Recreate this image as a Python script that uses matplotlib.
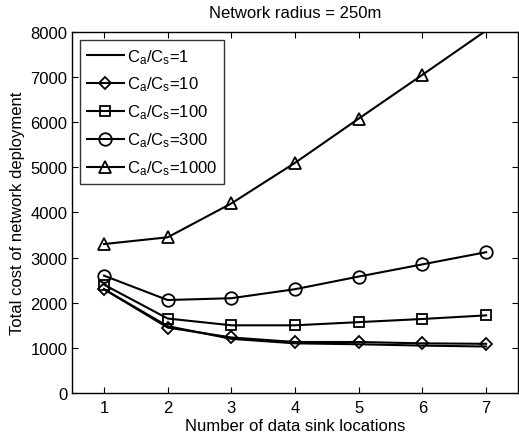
import numpy as np
import matplotlib
matplotlib.use("Agg")
import matplotlib.pyplot as plt

plt.rcParams['font.family'] = ['Liberation Sans', 'DejaVu Sans']
plt.rcParams['mathtext.default'] = 'regular'

# data
sinks = [1, 2, 3, 4, 5, 6, 7]
ratios = ["1", "10", "100", "300", "1000"]
cost_1 = [2300, 1480, 1200, 1100, 1080, 1050, 1030]
cost_10 = [2300, 1450, 1230, 1130, 1130, 1100, 1090]
cost_100 = [2400, 1650, 1500, 1500, 1570, 1640, 1720]
cost_300 = [2600, 2060, 2100, 2300, 2580, 2850, 3120]
cost_1000 = [3300, 3450, 4200, 5100, 6080, 7050, 8030]

series = [cost_1, cost_10, cost_100, cost_300, cost_1000]
markers = [None, "D", "s", "o", "^"]
msizes = [0, 6, 7, 9, 9]

fig = plt.figure(figsize=(5.19, 4.39), dpi=100)
ax = fig.add_axes([0.139, 0.1025, 0.859, 0.8225])

for vals, r, m, ms in zip(series, ratios, markers, msizes):
    # matlab drops markers that fall outside the axes
    keep = [i for i, v in enumerate(vals) if v <= 8000]
    ax.plot(sinks, vals, color="black", lw=1.5, marker=m, markersize=ms,
            markerfacecolor="none", markeredgewidth=1.3, markevery=keep,
            label=r"$C_a/C_s$=" + r)

ax.set_xlim(0.5, 7.5)
ax.set_ylim(0, 8000)
ax.set_xticks(sinks)
ax.set_yticks(np.arange(0, 8001, 1000))
ax.tick_params(direction="in", top=True, right=True, labelsize=12, length=4)
ax.tick_params(axis="x", pad=5)
for s in ax.spines.values():
    s.set_linewidth(1)

ax.set_xlabel("Number of data sink locations", fontsize=12, labelpad=2)
ax.set_ylabel("Total cost of network deployment", fontsize=12, labelpad=4)
ax.set_title("Network radius = 250m", fontsize=12, pad=11)

leg = ax.legend(loc="upper left", fontsize=12, frameon=True, fancybox=False,
                edgecolor="black", handlelength=2.2, handletextpad=0.2,
                borderpad=0.4, labelspacing=0.55, borderaxespad=0.5)
leg.get_frame().set_linewidth(1)

fig.savefig("out.png", dpi=100)
